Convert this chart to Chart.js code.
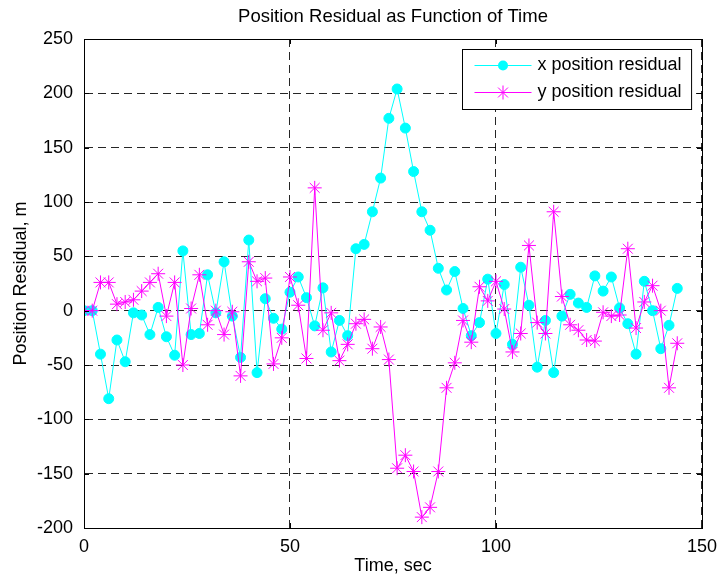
<!DOCTYPE html>
<html>
<head>
<meta charset="utf-8">
<title>Position Residual as Function of Time</title>
<script src="https://cdn.jsdelivr.net/npm/chart.js@4"></script>
<style>
  html, body { margin: 0; padding: 0; background: #fff; }
  #wrap { width: 725px; height: 583px; position: relative; }
</style>
</head>
<body>
<div id="wrap"><canvas id="residualChart"></canvas></div>
<script>
// Sample times (sec)
const timeSec = [
  0, 2, 4, 6, 8, 10, 12, 14, 16, 18, 20, 22, 24, 26, 28, 30, 32, 34, 36, 38,
  40, 42, 44, 46, 48, 50, 52, 54, 56, 58, 60, 62, 64, 66, 68, 70, 72, 74, 76, 78,
  80, 82, 84, 86, 88, 90, 92, 94, 96, 98, 100, 102, 104, 106, 108, 110, 112, 114, 116, 118,
  120, 122, 124, 126, 128, 130, 132, 134, 136, 138, 140, 142, 144
];

// x position residual (m)
const xResidual = [
  0, 0, -40, -81, -27, -47, -2, -4, -22, 3, -24, -41, 55, -22, -21, 33, -2, 45, -5, -43,
  65, -57, 11, -7, -17, 17, 31, 12, -14, 21, -38, -9, -23, 57, 61, 91, 122, 177, 204, 168,
  128, 91, 74, 39, 19, 36, 2, -23, -11, 29, -21, 24, -31, 40, 5, -52, -9, -57, -5, 15,
  7, 3, 32, 18, 31, 2.5, -12, -40, 27, 0, -35, -13.5, 20.5
];

// y position residual (m)
const yResidual = [
  0, 0, 26, 26, 6, 8, 10, 18, 26, 34, -5, 26, -50, 2, 33, -13, 0, -22, -1, -60,
  45, 27, 30, -49, -25, 31, 5, -44, 113, -18, -2, -46, -31, -12, -8, -35, -15, -45, -145, -133,
  -148, -190, -181, -148, -71, -48, -9, -29, 22, 9, 27, 1.5, -38, -21, 60, -11, -21, 91, 13, -13,
  -18, -27, -28, -1.5, -5, -4, 57, -16, 8, 23, 0, -71, -30
];

const seriesLabels = ['x position residual', 'y position residual'];
const chartTitle = 'Position Residual as Function of Time';
const xTicks = [0, 50, 100, 150];
const yTicks = [-200, -150, -100, -50, 0, 50, 100, 150, 200, 250];

const FONT = "'Liberation Sans', Arial, Helvetica, sans-serif";
const CYAN = '#00ffff';
const MAGENTA = '#ff00ff';

// Title centred over the plot area (not the whole canvas), like MATLAB
const titlePlugin = {
  id: 'axesTitle',
  afterDraw(chart) {
    const { ctx, chartArea: a } = chart;
    ctx.save();
    ctx.font = '18.5px ' + FONT;
    ctx.fillStyle = '#000';
    ctx.textAlign = 'center';
    ctx.textBaseline = 'middle';
    ctx.fillText(chartTitle, (a.left + a.right) / 2, 17);
    ctx.restore();
  }
};

// Inward tick marks + full axes box
const boxPlugin = {
  id: 'matlabBox',
  afterDatasetsDraw(chart) {
    const { ctx, chartArea: a, scales } = chart;
    const len = 5;
    ctx.save();
    ctx.strokeStyle = '#000';
    ctx.lineWidth = 1;
    ctx.beginPath();
    xTicks.forEach(v => {
      const px = Math.round(scales.x.getPixelForValue(v)) + 0.5;
      ctx.moveTo(px, a.bottom); ctx.lineTo(px, a.bottom - len);
      ctx.moveTo(px, a.top); ctx.lineTo(px, a.top + len);
    });
    yTicks.forEach(v => {
      const py = Math.round(scales.y.getPixelForValue(v)) + 0.5;
      ctx.moveTo(a.left, py); ctx.lineTo(a.left + len, py);
      ctx.moveTo(a.right, py); ctx.lineTo(a.right - len, py);
    });
    ctx.stroke();
    ctx.strokeRect(Math.round(a.left) + 0.5, Math.round(a.top) + 0.5,
      Math.round(a.right - a.left), Math.round(a.bottom - a.top));
    ctx.restore();
  }
};

// Boxed legend inside the plot, top right
const legendPlugin = {
  id: 'matlabLegend',
  afterDraw(chart) {
    const { ctx, chartArea: a } = chart;
    ctx.save();
    ctx.font = '18px ' + FONT;
    const textW = Math.max(...seriesLabels.map(s => ctx.measureText(s).width));
    const lineLen = 57, gap = 6, padL = 12, padR = 10, rowH = 27;
    const w = padL + lineLen + gap + textW + padR;
    const h = 60;
    const x0 = Math.round(a.right - 11 - w) + 0.5;
    const y0 = Math.round(a.top + 10) + 0.5;
    ctx.fillStyle = '#fff';
    ctx.fillRect(x0, y0, w, h);
    ctx.strokeStyle = '#000';
    ctx.lineWidth = 1;
    ctx.strokeRect(x0, y0, w, h);

    chart.data.datasets.forEach((ds, i) => {
      const cy = y0 + 16 + i * rowH;
      const lx = x0 + padL;
      ctx.strokeStyle = ds.borderColor;
      ctx.lineWidth = 1;
      ctx.beginPath();
      ctx.moveTo(lx, cy); ctx.lineTo(lx + lineLen, cy);
      ctx.stroke();
      const mx = lx + lineLen / 2;
      if (ds.pointStyle === 'circle') {
        ctx.fillStyle = ds.pointBackgroundColor;
        ctx.beginPath();
        ctx.arc(mx, cy, ds.pointRadius, 0, Math.PI * 2);
        ctx.fill();
      } else {
        const r = ds.pointRadius;
        const d = r * Math.SQRT1_2;
        ctx.beginPath();
        ctx.moveTo(mx - r, cy); ctx.lineTo(mx + r, cy);
        ctx.moveTo(mx, cy - r); ctx.lineTo(mx, cy + r);
        ctx.moveTo(mx - d, cy - d); ctx.lineTo(mx + d, cy + d);
        ctx.moveTo(mx - d, cy + d); ctx.lineTo(mx + d, cy - d);
        ctx.stroke();
      }
      ctx.fillStyle = '#000';
      ctx.textBaseline = 'middle';
      ctx.textAlign = 'left';
      ctx.fillText(seriesLabels[i], lx + lineLen + gap, cy);
    });
    ctx.restore();
  }
};

const ctx = document.getElementById('residualChart');
new Chart(ctx, {
  type: 'line',
  data: {
    datasets: [{
      label: seriesLabels[0],
      data: timeSec.map((t, i) => ({ x: t, y: xResidual[i] })),
      borderColor: CYAN,
      backgroundColor: CYAN,
      pointBackgroundColor: CYAN,
      pointBorderColor: CYAN,
      pointStyle: 'circle',
      pointRadius: 5,
      borderWidth: 1,
      tension: 0,
      order: 1
    }, {
      label: seriesLabels[1],
      data: timeSec.map((t, i) => ({ x: t, y: yResidual[i] })),
      borderColor: MAGENTA,
      backgroundColor: MAGENTA,
      pointBackgroundColor: MAGENTA,
      pointBorderColor: MAGENTA,
      pointStyle: 'star',
      pointRadius: 7,
      pointBorderWidth: 1,
      borderWidth: 1,
      tension: 0,
      order: 0
    }]
  },
  options: {
    responsive: true,
    maintainAspectRatio: false,
    devicePixelRatio: 1,
    animation: false,
    layout: { padding: { left: 0, right: 17, top: 39, bottom: 0 } },
    plugins: {
      legend: { display: false },
      tooltip: { enabled: false },
      title: { display: false }
    },
    scales: {
      x: {
        type: 'linear',
        min: 0,
        max: 150,
        afterFit: s => { s.height = 55; },
        afterBuildTicks: s => { s.ticks = xTicks.map(v => ({ value: v })); },
        ticks: { color: '#000', padding: 8, maxRotation: 0, font: { family: FONT, size: 18 } },
        grid: { color: 'rgba(0,0,0,0.85)', lineWidth: 1, drawTicks: false },
        border: { display: true, color: '#000', dash: [8, 5] },
        title: {
          display: true,
          text: 'Time, sec',
          color: '#000',
          font: { family: FONT, size: 18 },
          padding: { top: 0, bottom: 6 }
        }
      },
      y: {
        type: 'linear',
        min: -200,
        max: 250,
        afterFit: s => { s.width = 84; },
        afterBuildTicks: s => { s.ticks = yTicks.map(v => ({ value: v })); },
        ticks: { color: '#000', padding: 11, font: { family: FONT, size: 18 } },
        grid: { color: 'rgba(0,0,0,0.85)', lineWidth: 1, drawTicks: false },
        border: { display: true, color: '#000', dash: [8, 5] },
        title: {
          display: true,
          text: 'Position Residual, m',
          color: '#000',
          font: { family: FONT, size: 18 },
          padding: { top: 10, bottom: 0 }
        }
      }
    }
  },
  plugins: [boxPlugin, legendPlugin, titlePlugin]
});
</script>
</body>
</html>
